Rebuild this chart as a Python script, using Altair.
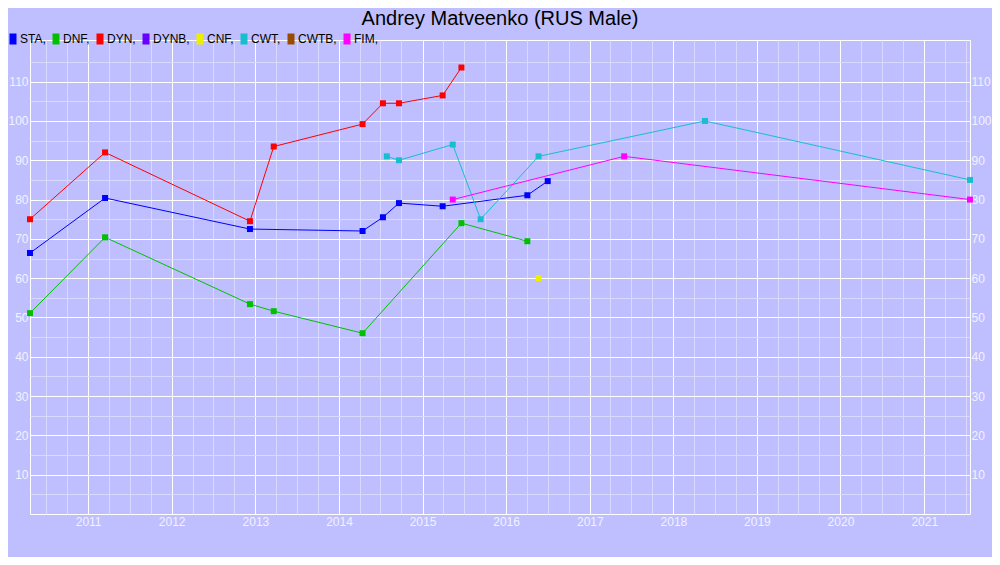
import altair as alt
import pandas as pd

# ---- data ----
series_names = ["STA", "DNF", "DYN", "DYNB", "CNF", "CWT", "CWTB", "FIM"]
series_colors = ["#0000ff", "#00c000", "#ff0000", "#6600ff", "#eeee00",
                 "#17becf", "#994c00", "#ff00ff"]

sta_dates = ["2010-04-22", "2011-03-16", "2012-12-08", "2014-04-14", "2014-07-12",
             "2014-09-20", "2015-03-30", "2016-04-03", "2016-07-01"]
sta_values = [66.4, 80.4, 72.5, 72.0, 75.5, 79.1, 78.3, 81.1, 84.7]

dnf_dates = ["2010-04-22", "2011-03-16", "2012-12-08", "2013-03-22", "2014-04-14",
             "2015-06-20", "2016-04-03"]
dnf_values = [51.1, 70.4, 53.4, 51.6, 46.0, 74.0, 69.4]

dyn_dates = ["2010-04-22", "2011-03-16", "2012-12-08", "2013-03-22", "2014-04-14",
             "2014-07-12", "2014-09-20", "2015-03-30", "2015-06-20"]
dyn_values = [75.0, 92.0, 74.5, 93.5, 99.2, 104.5, 104.5, 106.5, 113.6]

cnf_dates = ["2016-05-22"]
cnf_values = [60.0]

cwt_dates = ["2014-07-29", "2014-09-20", "2015-05-13", "2015-09-12", "2016-05-22",
             "2018-05-19", "2021-07-20"]
cwt_values = [91.0, 90.0, 94.0, 75.0, 91.0, 100.0, 85.0]

fim_dates = ["2015-05-13", "2017-05-31", "2021-07-20"]
fim_values = [80.0, 91.0, 80.0]

y_major_ticks = [10, 20, 30, 40, 50, 60, 70, 80, 90, 100, 110]
y_grid_ticks = [5, 10, 15, 20, 25, 30, 35, 40, 45, 50, 55, 60, 65, 70, 75, 80,
                85, 90, 95, 100, 105, 110, 115]
y_top = 120.6

title_text = "Andrey Matveenko (RUS Male)"

# ---- table ----
rows = []
for name, dates, vals in [("STA", sta_dates, sta_values), ("DNF", dnf_dates, dnf_values),
                          ("DYN", dyn_dates, dyn_values), ("CNF", cnf_dates, cnf_values),
                          ("CWT", cwt_dates, cwt_values), ("FIM", fim_dates, fim_values)]:
    for d, v in zip(dates, vals):
        rows.append({"event": name, "date": d, "value": v})
df = pd.DataFrame(rows)

all_dates = pd.to_datetime(df["date"])
dmin, dmax = all_dates.min(), all_dates.max()
x_grid = []
for yr in range(int(dmin.year), int(dmax.year) + 1):
    for mo in (1, 4, 7, 10):
        t = pd.Timestamp(year=yr, month=mo, day=1)
        if dmin <= t <= dmax:
            x_grid.append(alt.DateTime(year=yr, month=mo, date=1))

FONT = "Liberation Sans"
BG = "#bfbfff"
MINOR = "#d9d9ff"
LABEL = "#f2f2ff"

color_scale = alt.Scale(domain=series_names, range=series_colors)
x_scale = alt.Scale(nice=False, padding=0)
y_scale = alt.Scale(domain=[0, y_top], nice=False, zero=False)

legend = alt.Legend(
    title=None, orient="none", legendX=-22, legendY=-7, direction="horizontal",
    columns=len(series_names), symbolType="M-1,-1.222H0.556V1.222H-1Z", symbolSize=81,
    symbolStrokeWidth=0, symbolOpacity=1, labelFont=FONT, labelFontSize=12,
    labelColor="black", labelOffset=0, columnPadding=5, padding=0,
    labelExpr="datum.label + ','",
)

x_axis = alt.Axis(
    title=None, values=x_grid, format="%Y",
    labelExpr="month(datum.value) == 0 ? datum.label : ''",
    gridColor={"condition": {"test": "month(datum.value) == 0", "value": "#ffffff"},
               "value": MINOR},
    grid=True, ticks=False, domain=False, labelPadding=2, labelFlush=False,
    labelOverlap=False, labelFont=FONT, labelFontSize=12, labelColor=LABEL,
)

y_axis_left = alt.Axis(
    title=None, orient="left", values=y_grid_ticks,
    labelExpr="datum.value % 10 == 0 ? datum.label : ''",
    gridColor={"condition": {"test": "datum.value % 10 == 0", "value": "#ffffff"},
               "value": MINOR},
    grid=True, ticks=False, domain=False, labelPadding=2, labelOverlap=False,
    labelFont=FONT, labelFontSize=12, labelColor=LABEL,
)

y_axis_right = alt.Axis(
    title=None, orient="right", values=y_major_ticks, grid=False, ticks=False,
    domain=False, labelPadding=1, labelOverlap=False,
    labelFont=FONT, labelFontSize=12, labelColor=LABEL,
)

x_enc = alt.X("date:T", scale=x_scale, axis=x_axis)
color_enc = alt.Color("event:N", scale=color_scale, legend=legend)

base = alt.Chart(df)

lines = base.mark_line(strokeWidth=1, clip=False).encode(
    x=x_enc,
    y=alt.Y("value:Q", scale=y_scale, axis=y_axis_left),
    color=color_enc,
)

points = base.mark_point(shape="square", filled=True, size=36, opacity=1,
                         strokeWidth=0, clip=False).encode(
    x=x_enc,
    y=alt.Y("value:Q", scale=y_scale, axis=y_axis_right),
    color=color_enc,
)

chart = alt.layer(lines, points).resolve_axis(y="independent").properties(
    width=940, height=474,
    title=alt.TitleParams(title_text, font=FONT, fontSize=20, fontWeight="normal",
                          color="black", anchor="middle", frame="group", offset=4),
    autosize=alt.AutoSizeParams(type="none"),
    padding={"left": 22, "top": 32, "right": 22, "bottom": 43},
).configure(background=BG).configure_view(stroke="#ffffff", strokeWidth=1, fill=BG)

chart.save("out.html", embed_options={"renderer": "svg", "actions": False})
